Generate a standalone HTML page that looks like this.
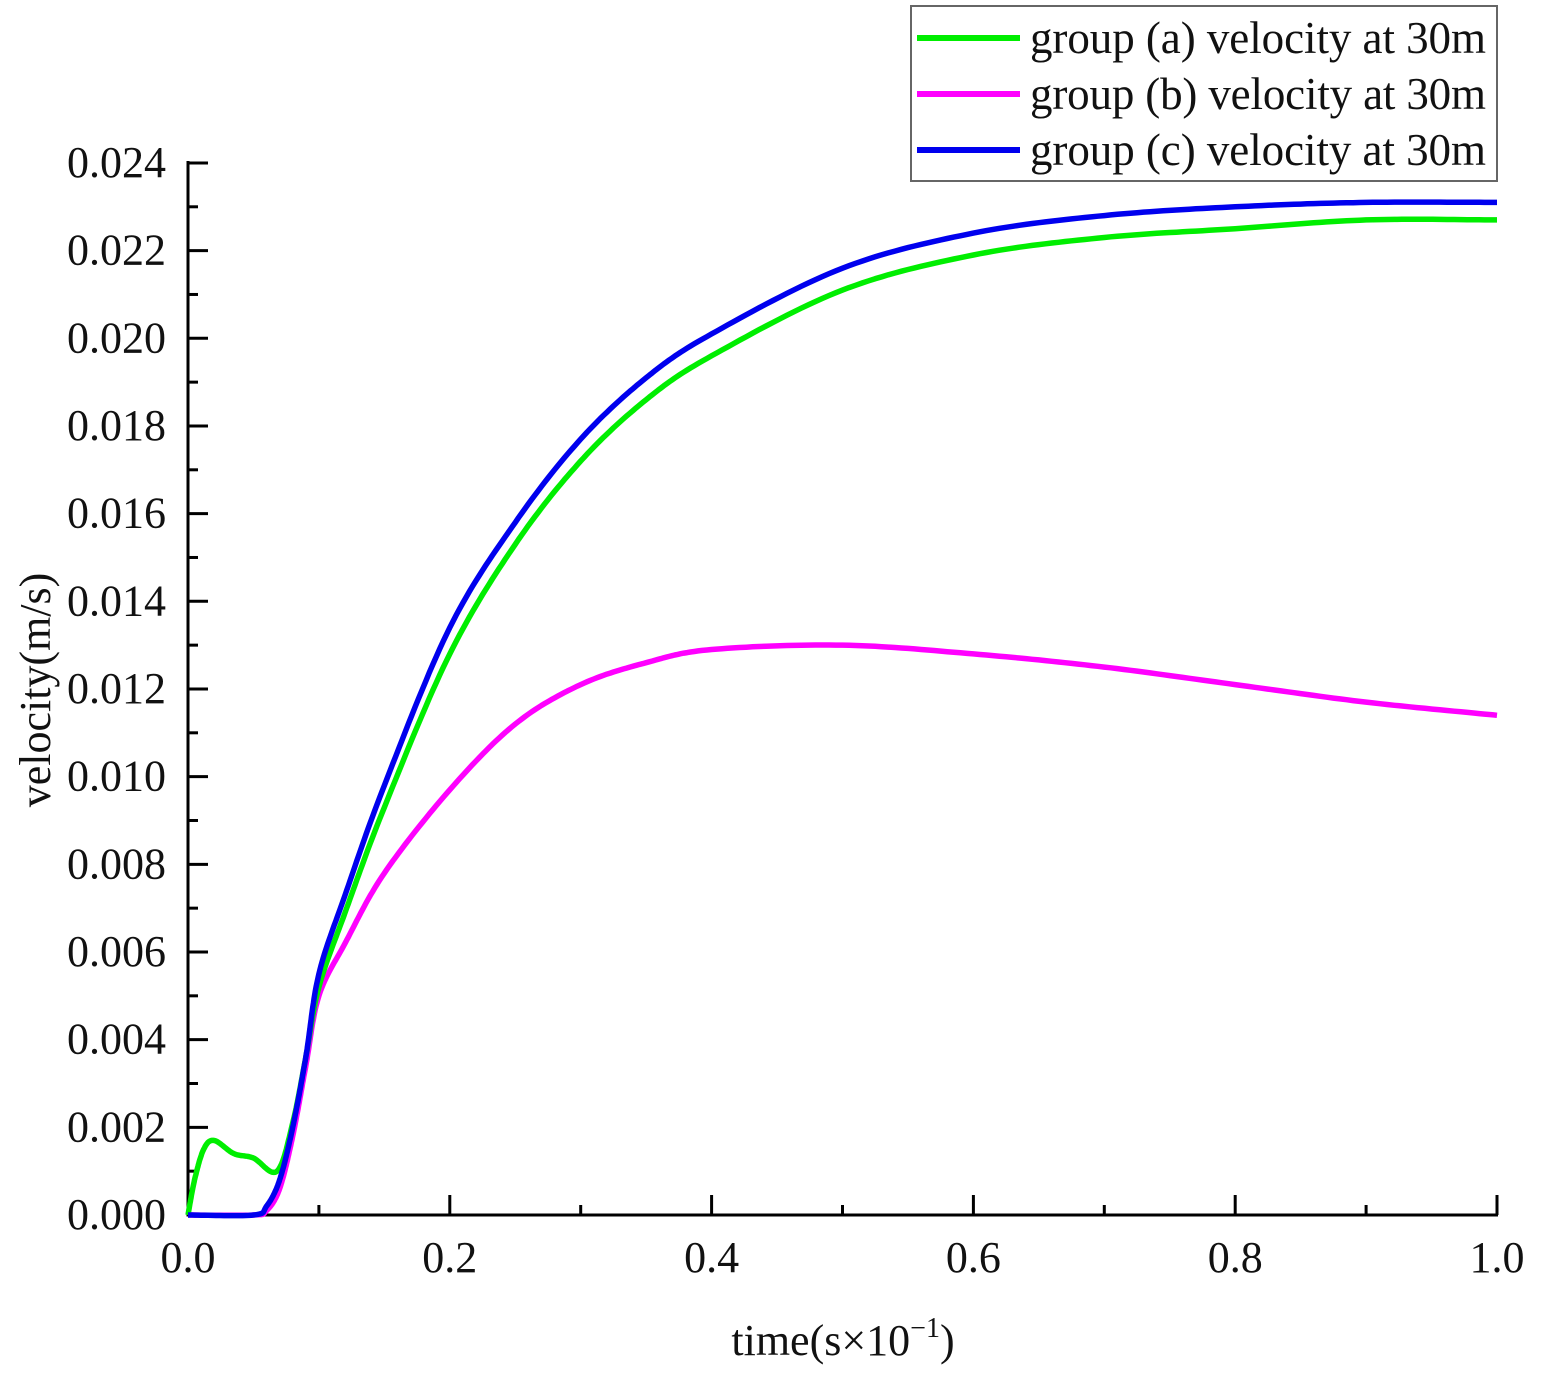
<!DOCTYPE html>
<html><head><meta charset="utf-8"><style>
html,body{margin:0;padding:0;background:#fff;}
svg{display:block;font-family:"Liberation Serif",serif;}
</style></head><body>
<svg id="s" width="1547" height="1390" xmlns="http://www.w3.org/2000/svg">
<g id="ax" stroke="#000" stroke-width="3" fill="none"></g>
<g id="lab" font-size="44" fill="#111"></g>
<g id="cur" fill="none" stroke-width="5.5" stroke-linejoin="round"></g>
<text x="843" y="1355" font-size="44" text-anchor="middle" fill="#111">time(s×10<tspan dy="-18" font-size="28">−1</tspan><tspan dy="18">)</tspan></text>
<text transform="translate(50,690) rotate(-90)" font-size="44" text-anchor="middle" fill="#111">velocity(m/s)</text>
<rect x="911" y="6" width="586" height="175" fill="#fff" stroke="#666" stroke-width="2"/>
<line x1="917" y1="38" x2="1020" y2="38" stroke="#00ee00" stroke-width="6"/>
<line x1="917" y1="94" x2="1020" y2="94" stroke="#ff00ff" stroke-width="6"/>
<line x1="917" y1="150" x2="1020" y2="150" stroke="#0000ee" stroke-width="6"/>
<g font-size="45" fill="#111">
<text x="1030" y="53" textLength="456">group (a) velocity at 30m</text>
<text x="1030" y="109" textLength="456">group (b) velocity at 30m</text>
<text x="1030" y="165" textLength="456">group (c) velocity at 30m</text>
</g>
</svg>
<script>
var NS="http://www.w3.org/2000/svg";
function X(t){return 188+t*1309;}
function Y(v){return 1215-v/0.002*87.67;}
function el(p,tag,a,txt){var e=document.createElementNS(NS,tag);for(var k in a)e.setAttribute(k,a[k]);if(txt!==undefined)e.textContent=txt;document.getElementById(p).appendChild(e);}
el("ax","line",{x1:188,y1:161,x2:188,y2:1216.5});
el("ax","line",{x1:186.5,y1:1215,x2:1498,y2:1215});
for(var i=0;i<=24;i++){var y=Y(i*0.001);var L=i%2==0?20:10;el("ax","line",{x1:188,y1:y,x2:188+L,y2:y});
 if(i%2==0)el("lab","text",{x:166,y:y+14,"text-anchor":"end"},(i*0.001).toFixed(3));}
for(var i=0;i<=10;i++){var x=X(i*0.1);var L=i%2==0?20:10;el("ax","line",{x1:x,y1:1215,x2:x,y2:1215-L});
 if(i%2==0)el("lab","text",{x:x,y:1272,"text-anchor":"middle"},(i*0.1).toFixed(1));}
function cr(pts){var out=[];for(var i=0;i<pts.length-1;i++){var p0=pts[Math.max(0,i-1)],p1=pts[i],p2=pts[i+1],p3=pts[Math.min(pts.length-1,i+2)];
 for(var s=0;s<20;s++){var t=s/20,t2=t*t,t3=t2*t;
 var f=function(a,b,c,d){return 0.5*((2*b)+(-a+c)*t+(2*a-5*b+4*c-d)*t2+(-a+3*b-3*c+d)*t3);};
 out.push([f(p0[0],p1[0],p2[0],p3[0]),f(p0[1],p1[1],p2[1],p3[1])]);}}
 out.push(pts[pts.length-1]);return out;}
function draw(d,col){var p=cr(d).map(function(q){return X(q[0]).toFixed(1)+","+Y(q[1]).toFixed(1);}).join(" ");
 el("cur","polyline",{points:p,stroke:col});}
var mid=[[0.1,0.0055],[0.12,0.0073],[0.15,0.0098],[0.2,0.0134],[0.25,0.0158],[0.3,0.0177],[0.35,0.0191],[0.4,0.0201],[0.5,0.0216],[0.6,0.0224],[0.7,0.0228],[0.8,0.0230],[0.9,0.0231],[1.0,0.0231]];
var start=[[0,0],[0.05,0],[0.06,0.0002],[0.07,0.0008],[0.08,0.002],[0.09,0.0036]];
draw([[0,0],[0.05,0],[0.06,0.0001],[0.07,0.0006],[0.08,0.0018],[0.09,0.0034],[0.1,0.005],[0.12,0.0062],[0.15,0.0078],[0.2,0.0097],[0.25,0.0112],[0.3,0.0121],[0.35,0.0126],[0.4,0.0129],[0.5,0.0130],[0.6,0.0128],[0.7,0.0125],[0.8,0.0121],[0.9,0.0117],[1.0,0.0114]],"#ff00ff");
draw([[0,0],[0.005,0.0008],[0.012,0.0015],[0.02,0.0017],[0.035,0.0014],[0.05,0.0013],[0.068,0.001],[0.08,0.0021],[0.09,0.0036],[0.1,0.0052],[0.12,0.0069],[0.15,0.0093],[0.2,0.0128],[0.25,0.0153],[0.3,0.0172],[0.35,0.0186],[0.4,0.0196],[0.5,0.0211],[0.6,0.0219],[0.7,0.0223],[0.8,0.0225],[0.9,0.0227],[1.0,0.0227]],"#00ee00");
draw(start.concat(mid),"#0000ee");
</script>
</body></html>
